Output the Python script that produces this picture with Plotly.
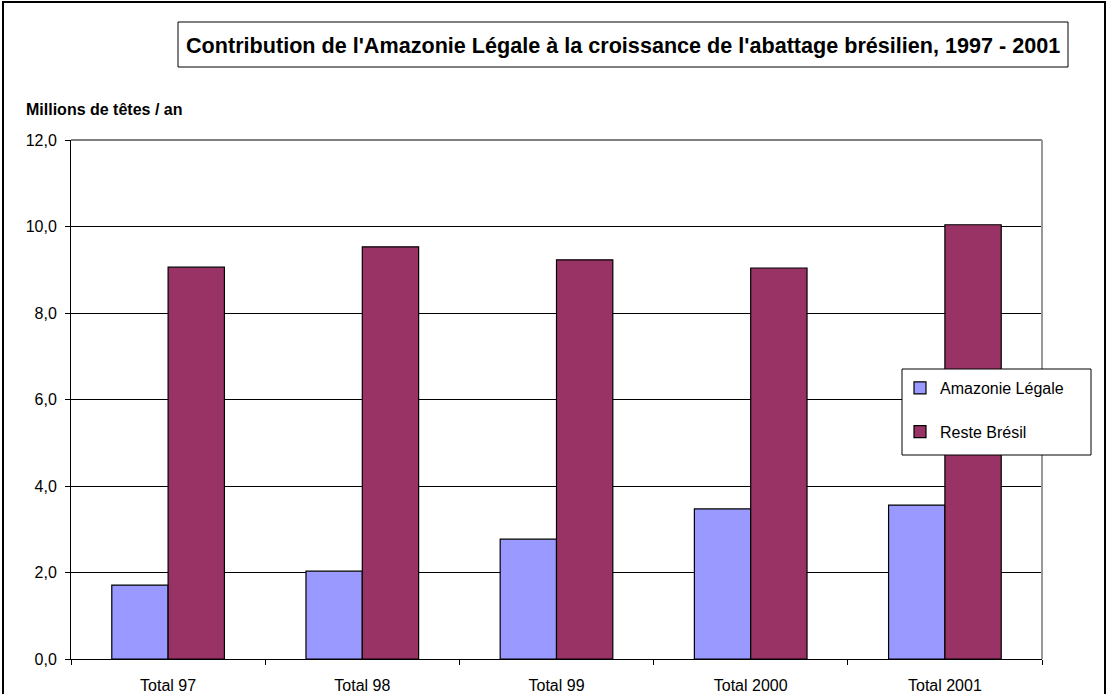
import plotly.graph_objects as go

categories = ["Total 97", "Total 98", "Total 99", "Total 2000", "Total 2001"]
amazonie = [1.71, 2.03, 2.77, 3.47, 3.56]
reste = [9.06, 9.53, 9.23, 9.04, 10.04]
y_ticks = [0, 2, 4, 6, 8, 10, 12]

W, H = 1109, 694
L, R, T, B = 71, 1042, 140, 659


def px(x):
    return (x - L) / (R - L)


def py(y):
    return (B - y) / (B - T)


fig = go.Figure()
fig.add_trace(go.Bar(name="Amazonie Légale", x=categories, y=amazonie,
                     marker=dict(color="#9999FF", line=dict(color="black", width=1.2)),
                     legendgroup="a"))
fig.add_trace(go.Bar(name="Reste Brésil", x=categories, y=reste,
                     marker=dict(color="#993366", line=dict(color="black", width=1.2)),
                     legendgroup="b"))

fig.update_layout(
    width=W, height=H,
    margin=dict(l=L, r=W - R, t=T, b=H - B, autoexpand=False),
    paper_bgcolor="white", plot_bgcolor="white",
    barmode="group", bargap=0.42, bargroupgap=0,
    separators=", ",
    font=dict(family="Liberation Sans, Arial", size=16, color="black"),
    showlegend=True,
    legend=dict(x=px(900), y=py(371), xanchor="left", yanchor="top",
                bgcolor="rgba(0,0,0,0)", borderwidth=0,
                font=dict(size=16), tracegroupgap=20, itemwidth=30),
)
fig.update_xaxes(showline=True, linecolor="black", linewidth=1, showgrid=False,
                 ticks="outside", tickson="boundaries", ticklen=5, tickcolor="black",
                 ticklabelstandoff=12,
                 tickfont=dict(size=16), mirror=False)
fig.update_yaxes(range=[0, 12], tickvals=y_ticks, tickformat=".1f",
                 showline=True, linecolor="black", linewidth=1,
                 showgrid=True, gridcolor="black", gridwidth=1,
                 ticks="outside", ticklen=5, tickcolor="black", ticklabelstandoff=5,
                 tickfont=dict(size=16), zeroline=False)

# top border line at 12,0
fig.add_shape(type="line", xref="paper", yref="paper", x0=0, x1=1, y0=1, y1=1,
              line=dict(color="black", width=1))
# plot area right border (gray)
fig.add_shape(type="line", xref="paper", yref="paper", x0=1, x1=1, y0=0, y1=1,
              line=dict(color="#999999", width=2))
# outer frame
fig.add_shape(type="rect", xref="paper", yref="paper",
              x0=px(3), x1=px(1105), y0=py(720), y1=py(2),
              line=dict(color="black", width=2), layer="above")
# legend box
fig.add_shape(type="rect", xref="paper", yref="paper",
              x0=px(902), x1=px(1091), y0=py(455), y1=py(369),
              line=dict(color="black", width=1), fillcolor="white", layer="above")
# title box
fig.add_shape(type="rect", xref="paper", yref="paper",
              x0=px(178), x1=px(1068), y0=py(67), y1=py(22),
              line=dict(color="black", width=1), fillcolor="white")
fig.add_annotation(text="<b>Contribution de l'Amazonie Légale à la croissance de l'abattage brésilien, 1997 - 2001</b>",
                   xref="paper", yref="paper", x=px(623), y=py(45),
                   xanchor="center", yanchor="middle", showarrow=False,
                   font=dict(size=21.6))
fig.add_annotation(text="<b>Millions de têtes / an</b>",
                   xref="paper", yref="paper", x=px(24), y=py(110),
                   xanchor="left", yanchor="middle", showarrow=False,
                   font=dict(size=16))

fig.write_html("out.html", config={"displayModeBar": False},
               post_script="document.body.style.margin='0px';")
